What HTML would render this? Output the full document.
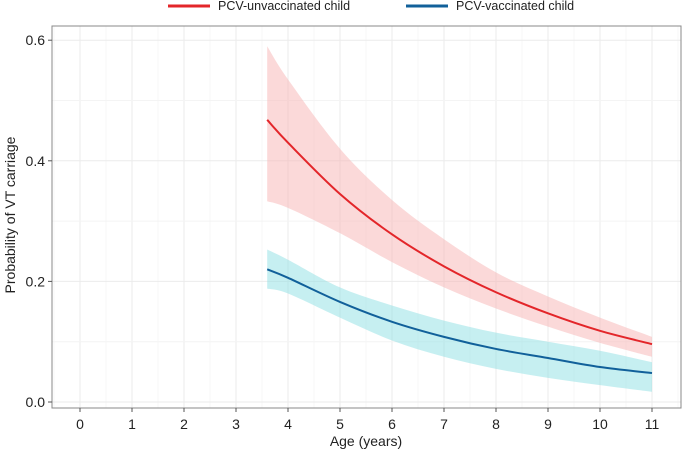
<!DOCTYPE html>
<html><head><meta charset="utf-8"><style>
body{margin:0;background:#fff;font-family:"Liberation Sans",sans-serif}
svg text{font-family:"Liberation Sans",sans-serif}
</style></head><body>
<svg id="c" width="682" height="453" xmlns="http://www.w3.org/2000/svg"></svg>
<script>
const ages=[3.6,4,5,6,7,8,9,10,11];
const redMid=[0.468,0.43,0.345,0.278,0.225,0.182,0.147,0.118,0.096];
const redHi=[0.59,0.535,0.42,0.335,0.27,0.215,0.175,0.14,0.108];
const redLo=[0.333,0.322,0.28,0.232,0.19,0.155,0.125,0.098,0.075];
const blueMid=[0.22,0.206,0.166,0.133,0.108,0.088,0.073,0.058,0.048];
const blueHi=[0.253,0.236,0.19,0.16,0.135,0.115,0.1,0.085,0.066];
const blueLo=[0.188,0.18,0.14,0.102,0.075,0.055,0.04,0.028,0.017];
const xTicks=[0,1,2,3,4,5,6,7,8,9,10,11];
const yTicks=[0,0.2,0.4,0.6];
const yLabels=["0.0","0.2","0.4","0.6"];
const NS="http://www.w3.org/2000/svg";
const svg=document.getElementById('c');
const L=52,R=681,T=26,B=408;
const sx=v=>80+v*52;
const sy=v=>402-v*603;
function mk(t,a,p){const e=document.createElementNS(NS,t);for(const k in a)e.setAttribute(k,a[k]);(p||svg).appendChild(e);return e;}
function smooth(pts,start){let d=(start?'M':'L')+pts[0][0]+','+pts[0][1];
for(let i=0;i<pts.length-1;i++){const p0=pts[Math.max(i-1,0)],p1=pts[i],p2=pts[i+1],p3=pts[Math.min(i+2,pts.length-1)];
const c1=[p1[0]+(p2[0]-p0[0])/6,p1[1]+(p2[1]-p0[1])/6],c2=[p2[0]-(p3[0]-p1[0])/6,p2[1]-(p3[1]-p1[1])/6];
d+='C'+c1[0]+','+c1[1]+' '+c2[0]+','+c2[1]+' '+p2[0]+','+p2[1];}return d;}
const panel=mk('rect',{x:L,y:T,width:R-L,height:B-T,fill:'#fff'});


for(let v=-0.5;v<=11.5;v+=0.5){const x=sx(v);if(x<L||x>R)continue;const g=mk('line',{x1:x,x2:x,y1:T,y2:B,stroke:Number.isInteger(v)?'#ebebeb':'#f4f4f4','stroke-width':Number.isInteger(v)?1:0.7});

}
for(let v=0;v<=0.61;v+=0.1){const y=sy(v);const g=mk('line',{x1:L,x2:R,y1:y,y2:y,stroke:(Math.round(v*10)%2==0)?'#ebebeb':'#f4f4f4','stroke-width':1});

}
function band(hi,lo,fill,name){const up=ages.map((a,i)=>[sx(a),sy(hi[i])]);const dn=ages.map((a,i)=>[sx(a),sy(lo[i])]).reverse();
const p=mk('path',{d:smooth(up,true)+smooth(dn,false)+'Z',fill:fill,'fill-opacity':0.5});

}
function line(m,col,name){const p=mk('path',{d:smooth(ages.map((a,i)=>[sx(a),sy(m[i])]),true),fill:'none',stroke:col,'stroke-width':2});

}
band(redHi,redLo,'#f8b4b4','unvaccinated-ci-band');
band(blueHi,blueLo,'#8ee0e4','vaccinated-ci-band');
line(redMid,'#e3262a','unvaccinated-line');
line(blueMid,'#11609a','vaccinated-line');
const br=mk('rect',{x:L,y:T,width:R-L,height:B-T,fill:'none',stroke:'#888','stroke-width':1});


xTicks.forEach(v=>{const x=sx(v);mk('line',{x1:x,x2:x,y1:B,y2:B+4,stroke:'#555'});
const t=mk('text',{x:x,y:B+21,'text-anchor':'middle','font-size':14,fill:'#222'});t.textContent=v;

});
yTicks.forEach((v,i)=>{const y=sy(v);mk('line',{x1:L-4,x2:L,y1:y,y2:y,stroke:'#555'});
const t=mk('text',{x:L-7,y:y+5,'text-anchor':'end','font-size':14,fill:'#222'});t.textContent=yLabels[i];

});
</script>
<svg style="position:absolute;left:0;top:0" width="682" height="453" xmlns="http://www.w3.org/2000/svg">
<text x="366" y="446" text-anchor="middle" font-size="14" fill="#222">Age (years)</text>
<text transform="translate(15,215) rotate(-90)" text-anchor="middle" font-size="14" fill="#222">Probability of VT carriage</text>
<g><line x1="168" x2="210" y1="6" y2="6" stroke="#e3262a" stroke-width="3"/><text x="218" y="10" font-size="12.5" fill="#222">PCV-unvaccinated child</text></g>
<g><line x1="406" x2="448" y1="6" y2="6" stroke="#11609a" stroke-width="3"/><text x="456" y="10" font-size="12.5" fill="#222">PCV-vaccinated child</text></g>
</svg>
</body></html>
